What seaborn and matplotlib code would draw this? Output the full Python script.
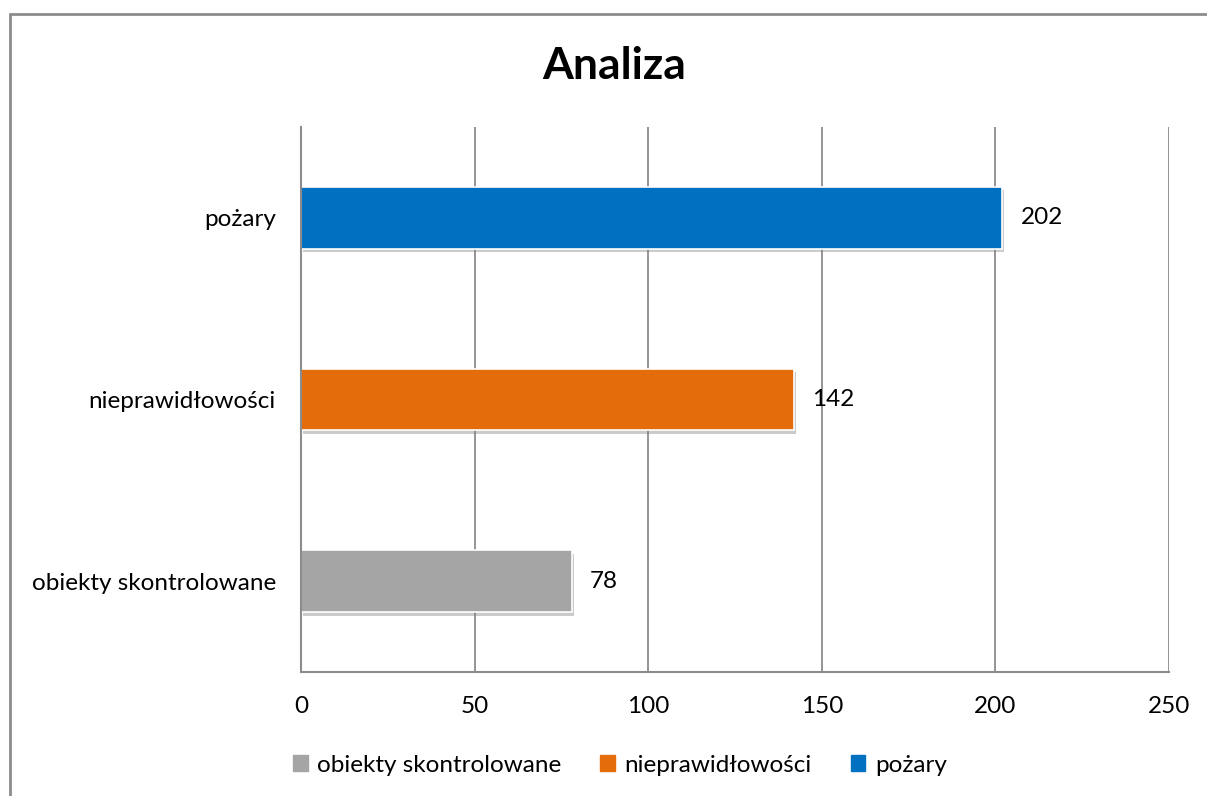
import matplotlib
matplotlib.use("Agg")
import matplotlib.pyplot as plt
import matplotlib.patheffects as pe
from matplotlib.patches import Patch
from matplotlib.lines import Line2D
import seaborn as sns
import pandas as pd

# data
categories = ['pożary', 'nieprawidłowości', 'obiekty skontrolowane']
values = [202, 142, 78]
colors = ['#0070C0', '#E46C0A', '#A5A5A5']
x_ticks = [0, 50, 100, 150, 200, 250]
title = 'Analiza'

sns.set_style('white')
plt.rcParams['font.family'] = ['Lato', 'DejaVu Sans']
plt.rcParams['text.color'] = 'black'
plt.rcParams['xtick.color'] = 'black'
plt.rcParams['ytick.color'] = 'black'

df = pd.DataFrame({'kategoria': categories, 'wartosc': values})

fig = plt.figure(figsize=(12.07, 7.96), dpi=100)
ax = fig.add_axes([301/1207, 1-672/796, (1169-301)/1207, (672-127)/796])

sns.barplot(data=df, y='kategoria', x='wartosc', hue='kategoria',
            palette=dict(zip(categories, colors)), order=categories,
            width=0.34, orient='h', legend=False, ax=ax, saturation=1,
            edgecolor='white', linewidth=1.2)

# soft shadow like the Excel bars
for bar in ax.patches:
    bar.set_path_effects([pe.SimplePatchShadow(offset=(1.5, -2.5), shadow_rgbFace='#7f7f7f', alpha=0.4),
                          pe.Normal()])

for c in ax.containers:
    ax.bar_label(c, padding=13, fontsize=17.5)

ax.set_xlim(0, 250)
ax.set_xticks(x_ticks)
ax.set_xlabel('')
ax.set_ylabel('')
ax.xaxis.grid(True, color='#8c8c8c', linewidth=1.3)
ax.set_axisbelow(True)
ax.tick_params(axis='x', length=0, pad=17, labelsize=17.5)
ax.tick_params(axis='y', length=0, pad=18, labelsize=17.5)
for s in ['top', 'right']:
    ax.spines[s].set_visible(False)
for s in ['left', 'bottom']:
    ax.spines[s].set_color('#8c8c8c')
    ax.spines[s].set_linewidth(1.5)

fig.text(614/1207, 1-66/796, title, ha='center', va='center', fontsize=32, fontweight='bold')

# legend: reverse order like Excel
handles = [Patch(color=colors[i], label=categories[i]) for i in [2, 1, 0]]
fig.legend(handles=handles, loc='center', bbox_to_anchor=(620/1207, 1-765/796), ncol=3,
           frameon=False, fontsize=17.5, handlelength=0.6, handleheight=0.6,
           handletextpad=0.4, columnspacing=1.6)

# outer border (left + top visible)
fig.add_artist(Line2D([10/1207, 10/1207], [0, 1-14/796], color='#8c8c8c', linewidth=2))
fig.add_artist(Line2D([10/1207, 1], [1-14/796, 1-14/796], color='#8c8c8c', linewidth=2))

fig.savefig('out.png', dpi=100)
